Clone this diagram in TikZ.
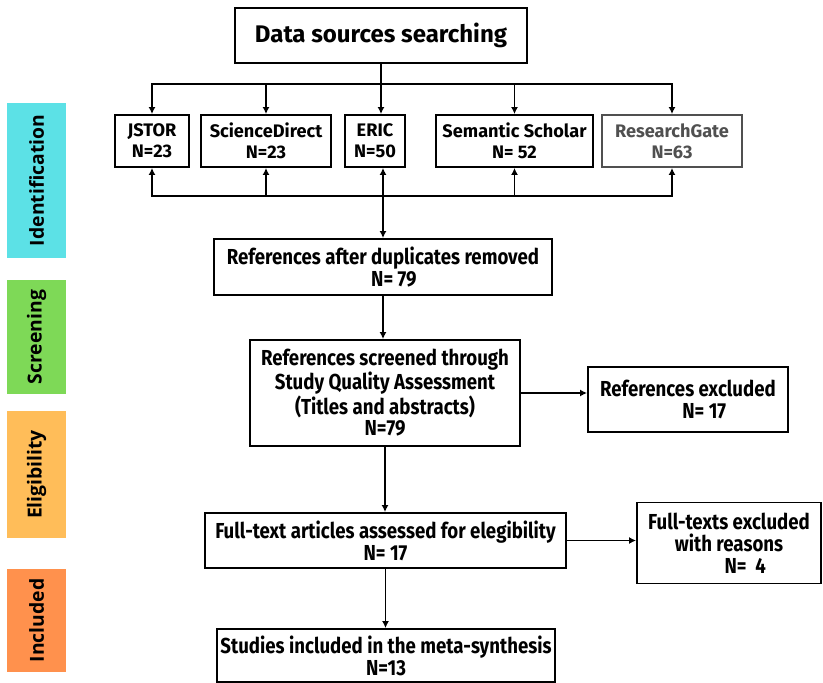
\documentclass[tikz,border=0pt]{standalone}
\usepackage{fontspec}
\setmainfont{Fira Sans}
\newfontfamily\condfont[FakeStretch=0.86]{Fira Sans}
\newfontfamily\stagefont{Open Sans}
\usetikzlibrary{arrows.meta,positioning}
\definecolor{stcyan}{HTML}{5CE1E6}
\definecolor{stgreen}{HTML}{7ED957}
\definecolor{styellow}{HTML}{FFBD59}
\definecolor{storange}{HTML}{FF914D}
\definecolor{rggray}{RGB}{80,80,80}
\def\px{0.03cm}

\begin{document}
\begin{tikzpicture}[x=0.03cm,y=-0.03cm,
  box/.style={draw,line width=1.6pt,align=center,inner sep=1pt,
    font=\condfont\bfseries\fontsize{18.5}{18.6}\selectfont},
  srcbox/.style={box,minimum height=52*\px,font=\bfseries\fontsize{15.5}{18}\selectfont},
  stage/.style={rotate=90,minimum height=59*\px,inner sep=0pt,
    font=\stagefont\bfseries\fontsize{16.5}{18}\selectfont},
  arr/.style={line width=1.6pt,-{Latex[length=6pt,width=6pt]}}]
\useasboundingbox (0,0) rectangle (823,683);
% stage bars on the left
\foreach \n/\yc/\len/\col/\lab in {id/180.5/155/stcyan/Identification,
    sc/337/114/stgreen/Screening, el/474.5/127/styellow/Eligibility,
    in/620.5/103/storange/Included}{
  \node[stage,fill=\col,minimum width=\len*\px] (st-\n) at (36.5,\yc) {\lab};
}
% search and sources
\node[box,minimum width=292*\px,minimum height=55*\px,
  font=\bfseries\fontsize{20.5}{24}\selectfont] (search) at (381,35.5) {Data sources searching};
\node[srcbox,minimum width=74*\px] (jstor) at (152,141) {JSTOR\\N=23};
\node[srcbox,minimum width=130*\px] (sdirect) at (266,141) {ScienceDirect\\N=23};
\node[srcbox,minimum width=60*\px] (eric) at (375,141) {ERIC\\N=50};
\node[srcbox,minimum width=157*\px] (semsch) at (514.5,141) {Semantic Scholar\\N= 52};
\node[srcbox,minimum width=140*\px,draw=rggray,text=rggray] (rgate) at (672,141) {ResearchGate\\N=63};
\coordinate (split) at (383,84);
\coordinate (merge) at (383,196);
% flow boxes
\node[box,minimum width=338*\px,minimum height=56*\px] (dup) at (383,267)
  {References after duplicates removed\\\hspace*{1em}N= 79};
\node[box,minimum width=270*\px,minimum height=106*\px] (screen) at (385,393)
  {References screened through\\Study Quality Assessment\\(Titles and abstracts)\\N=79};
\node[box,minimum width=200*\px,minimum height=65*\px] (excl) at (688,399.5)
  {References excluded\\\hspace*{1.5em}N= 17};
\node[box,minimum width=361*\px,minimum height=55*\px] (full) at (385.5,540.5)
  {Full-text articles assessed for elegibility\\N= 17};
\node[box,minimum width=184*\px,minimum height=81*\px] (fexcl) at (729,543)
  {Full-texts excluded\\with reasons\\\hspace*{1.5em}N=~~4};
\node[box,minimum width=338*\px,minimum height=53*\px] (incl) at (386,655.5)
  {Studies included in the meta-synthesis\\N=13};
% connectors
\draw[arr] (search.south) -- (search.south |- eric.north);
\foreach \b in {jstor,sdirect,semsch,rgate}{
  \draw[arr] (split) -| (\b.north);
  \draw[arr] (merge) -| (\b.south);
}
\draw[arr] (merge) -- (merge |- eric.south);
\draw[arr] (merge) -- (merge |- dup.north);
\draw[arr] (dup.south) -- (dup.south |- screen.north);
\draw[arr] (screen.east) -- (screen.east -| excl.west);
\draw[arr] (screen.south) -- (screen.south |- full.north);
\draw[arr] (full.east) -- (full.east -| fexcl.west);
\draw[arr] (full.south) -- (full.south |- incl.north);
\end{tikzpicture}
\end{document}
